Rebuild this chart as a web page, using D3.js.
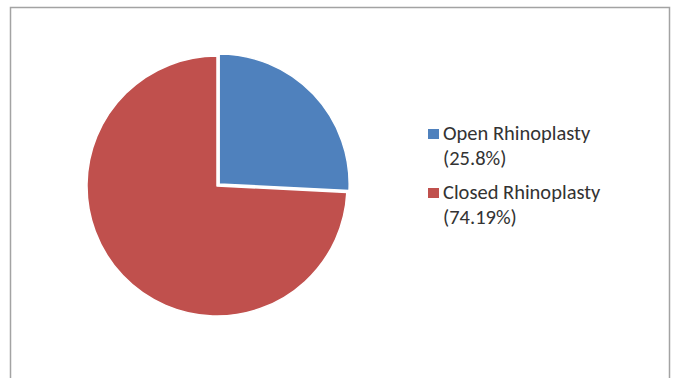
<!DOCTYPE html>
<html>
<head>
<meta charset="utf-8">
<script src="https://cdn.jsdelivr.net/npm/d3@7"></script>
<style>
  html, body { margin: 0; padding: 0; background: #fff; }
  svg { display: block; }
</style>
</head>
<body>
<svg id="chart" width="675" height="378"></svg>
<script>
// Rhinoplasty technique share
const categories = ["Open Rhinoplasty", "Closed Rhinoplasty"];
const values = [25.8, 74.19];
const percentLabels = ["(25.8%)", "(74.19%)"];
const colors = ["#4F81BD", "#C0504D"];

const svg = d3.select("#chart");
const W = 675, H = 378;

// chart-area frame (open at the bottom edge of the view)
svg.append("rect")
  .attr("x", 10.5).attr("y", 7.5)
  .attr("width", 659).attr("height", H + 10)
  .attr("fill", "#fff")
  .attr("stroke", "#a3a3a3")
  .attr("stroke-width", 1.5);

const cx = 217, cy = 186, r = 130;
const data = categories.map((c, i) => ({ name: c, value: values[i], color: colors[i], label: percentLabels[i] }));

const pie = d3.pie().value(d => d.value).sort(null);
const arc = d3.arc().innerRadius(0).outerRadius(r);
const explode = [3, 0];

const g = svg.append("g").attr("transform", `translate(${cx},${cy})`);
g.selectAll("path")
  .data(pie(data))
  .join("path")
  .attr("d", arc)
  .attr("fill", d => d.data.color)
  .attr("stroke", "#fff")
  .attr("stroke-width", 1.5)
  .attr("stroke-linejoin", "round")
  .attr("transform", (d, i) => {
    const a = (d.startAngle + d.endAngle) / 2;
    const k = explode[i];
    return `translate(${k * Math.sin(a)},${-k * Math.cos(a)})`;
  });

// legend
const font = "Calibri, Carlito, Lato, 'Open Sans', sans-serif";
const legend = svg.append("g");
const entryY = [140, 199];
const lineGap = 25;
const textX = 443;
const baseSize = 18.5;

data.forEach((d, i) => {
  const y = entryY[i];
  legend.append("rect")
    .attr("x", 428).attr("y", y - 11)
    .attr("width", 11).attr("height", 10)
    .attr("fill", d.color);
  legend.append("text").attr("class", "lg")
    .attr("x", textX).attr("y", y)
    .attr("font-family", font)
    .attr("font-size", baseSize)
    .attr("fill", "#333333")
    .text(d.name);
  legend.append("text").attr("class", "lg")
    .attr("x", textX).attr("y", y + lineGap)
    .attr("font-family", font)
    .attr("font-size", baseSize)
    .attr("fill", "#333333")
    .text(d.label);
});

// size the legend font so the first name spans its intended width,
// while keeping each line's box within the line gap
const first = legend.select("text.lg").node();
const target = 155;
const len = first.getComputedTextLength();
if (len > 0) {
  const fs = baseSize * target / len;
  legend.selectAll("text.lg").attr("font-size", Math.max(15, Math.min(lineGap / 1.22, fs)));
}
</script>
</body>
</html>
